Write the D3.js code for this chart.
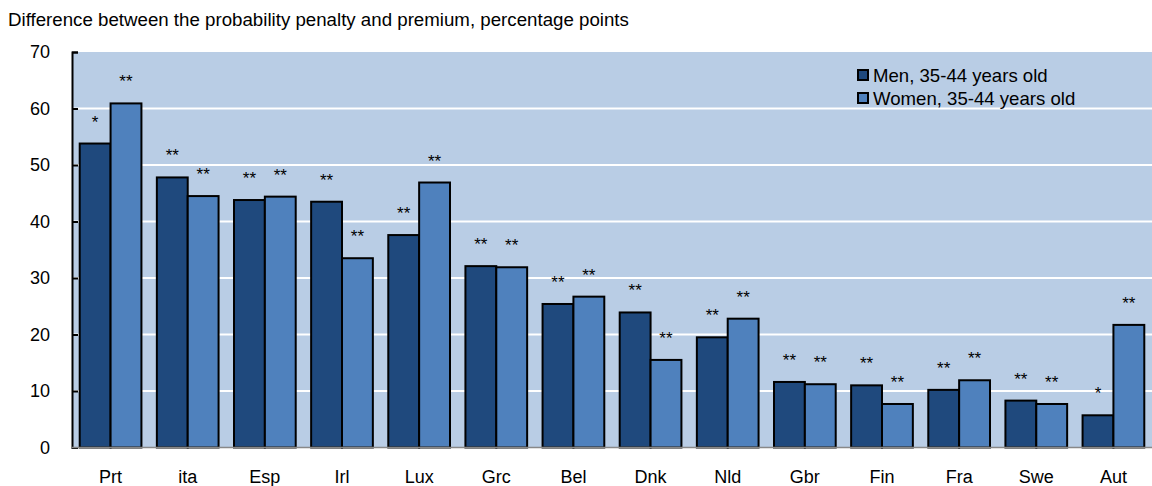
<!DOCTYPE html>
<html>
<head>
<meta charset="utf-8">
<script src="https://cdn.jsdelivr.net/npm/d3@7"></script>
<style>
  body { margin: 0; background: #fff; }
  text { font-family: "Liberation Sans", Arial, sans-serif; fill: #000; }
</style>
</head>
<body>
<div id="chart"></div>
<script>
// DATA
const countries = ['Prt', 'ita', 'Esp', 'Irl', 'Lux', 'Grc', 'Bel', 'Dnk', 'Nld', 'Gbr', 'Fin', 'Fra', 'Swe', 'Aut'];
const seriesNames = ['Men, 35-44 years old', 'Women, 35-44 years old'];
const men = [53.8, 47.8, 43.8, 43.5, 37.6, 32.1, 25.4, 23.9, 19.5, 11.6, 11.0, 10.2, 8.3, 5.7];
const women = [60.9, 44.5, 44.4, 33.5, 46.9, 31.9, 26.7, 15.5, 22.8, 11.2, 7.7, 11.9, 7.7, 21.7];
const menSig = ['*', '**', '**', '**', '**', '**', '**', '**', '**', '**', '**', '**', '**', '*'];
const womenSig = ['**', '**', '**', '**', '**', '**', '**', '**', '**', '**', '**', '**', '**', '**'];
const yTicks = [0, 10, 20, 30, 40, 50, 60, 70];
const title = 'Difference between the probability penalty and premium, percentage points';

// FIGURE DIMENSIONS
const FIGURE = { WIDTH: 1152, HEIGHT: 486 };
const PLOT = { LEFT: 72, RIGHT: 1152, TOP: 52, BOTTOM: 447.5 };
const COLORS = { bg: '#b9cde5', men: '#1f497d', women: '#4f81bd' };

const x = d3.scaleBand()
    .domain(countries)
    .range([PLOT.LEFT, PLOT.RIGHT])
    .paddingInner(0.2)
    .paddingOuter(0.1);

const xs = d3.scaleBand()
    .domain([0, 1])
    .range([0, x.bandwidth()]);

const y = d3.scaleLinear()
    .domain([0, 70])
    .range([PLOT.BOTTOM, PLOT.TOP]);

const svg = d3.select('#chart')
    .append('svg')
        .attr('width', FIGURE.WIDTH)
        .attr('height', FIGURE.HEIGHT);

svg.append('text')
    .attr('x', 8)
    .attr('y', 26)
    .style('font-size', '18.7px')
    .text(title);

// background
svg.append('rect')
    .attr('x', PLOT.LEFT)
    .attr('y', PLOT.TOP)
    .attr('width', PLOT.RIGHT - PLOT.LEFT)
    .attr('height', PLOT.BOTTOM - PLOT.TOP)
    .attr('fill', COLORS.bg);

// gridlines
svg.append('g')
    .selectAll('line')
    .data(yTicks.filter(d => d > 0 && d < 70))
    .enter()
    .append('line')
        .attr('x1', PLOT.LEFT)
        .attr('x2', PLOT.RIGHT)
        .attr('y1', d => y(d))
        .attr('y2', d => y(d))
        .attr('stroke', '#fff')
        .attr('stroke-width', 2);

// y axis
const yAxis = d3.axisRight(y)
    .tickValues(yTicks)
    .tickSize(6)
    .tickFormat('');

const yg = svg.append('g')
    .attr('transform', `translate(${PLOT.LEFT},0)`)
    .call(yAxis);
yg.select('.domain').attr('stroke', '#000').attr('stroke-width', 2);
yg.selectAll('.tick line').attr('stroke', '#000').attr('stroke-width', 2);

svg.append('g')
    .selectAll('text')
    .data(yTicks)
    .enter()
    .append('text')
        .attr('x', 50)
        .attr('y', d => y(d))
        .attr('dy', '0.36em')
        .attr('text-anchor', 'end')
        .style('font-size', '18px')
        .text(d => d);

// bars
const rows = countries.map((c, i) => ({
    country: c,
    values: [
        { s: 0, v: men[i], sig: menSig[i] },
        { s: 1, v: women[i], sig: womenSig[i] }
    ]
}));

const groups = svg.append('g')
    .selectAll('g')
    .data(rows)
    .enter()
    .append('g')
        .attr('transform', d => `translate(${x(d.country)},0)`);

groups.selectAll('rect')
    .data(d => d.values)
    .enter()
    .append('rect')
        .attr('x', d => xs(d.s))
        .attr('y', d => y(d.v))
        .attr('width', xs.bandwidth())
        .attr('height', d => y(0) - y(d.v))
        .attr('fill', d => d.s === 0 ? COLORS.men : COLORS.women)
        .attr('stroke', '#000')
        .attr('stroke-width', 2);

groups.selectAll('text')
    .data(d => d.values)
    .enter()
    .append('text')
        .attr('x', d => xs(d.s) + xs.bandwidth() / 2)
        .attr('y', d => y(d.v) - 16)
        .attr('text-anchor', 'middle')
        .style('font-size', '17px')
        .text(d => d.sig);

// x axis baseline
svg.append('line')
    .attr('x1', PLOT.LEFT)
    .attr('x2', PLOT.RIGHT)
    .attr('y1', PLOT.BOTTOM)
    .attr('y2', PLOT.BOTTOM)
    .attr('stroke', '#888')
    .attr('stroke-width', 1.5);

svg.append('g')
    .selectAll('text')
    .data(countries)
    .enter()
    .append('text')
        .attr('x', d => x(d) + x.bandwidth() / 2)
        .attr('y', 483)
        .attr('text-anchor', 'middle')
        .style('font-size', '18px')
        .text(d => d);

// legend
const legend = svg.append('g')
    .attr('transform', 'translate(858,0)');

legend.selectAll('rect')
    .data(seriesNames)
    .enter()
    .append('rect')
        .attr('x', 0)
        .attr('y', (d, i) => 70 + i * 23)
        .attr('width', 10)
        .attr('height', 10)
        .attr('fill', (d, i) => i === 0 ? COLORS.men : COLORS.women)
        .attr('stroke', '#000')
        .attr('stroke-width', 2);

legend.selectAll('text')
    .data(seriesNames)
    .enter()
    .append('text')
        .attr('x', 15)
        .attr('y', (d, i) => 81.5 + i * 23)
        .style('font-size', '18.6px')
        .text(d => d);
</script>
</body>
</html>
